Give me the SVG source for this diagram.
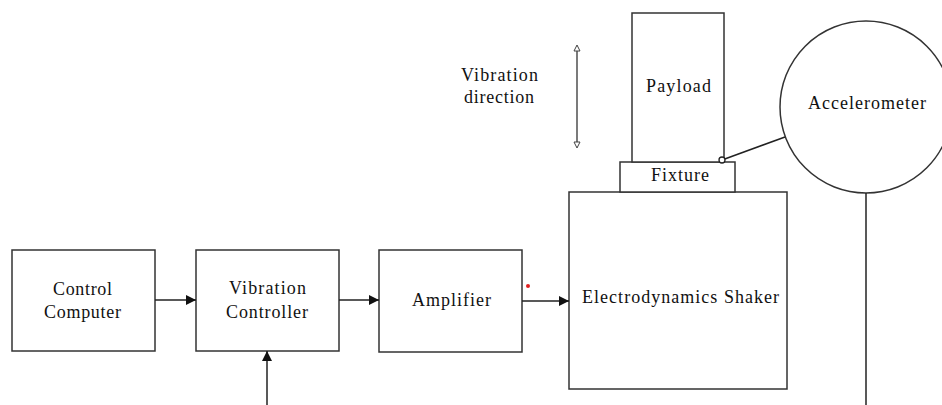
<svg xmlns="http://www.w3.org/2000/svg" width="942" height="405" viewBox="0 0 942 405">
<defs>
<marker id="ah" viewBox="0 0 10 10" refX="10" refY="5" markerWidth="10" markerHeight="10" markerUnits="userSpaceOnUse" orient="auto">
<path d="M0,0 L10,5 L0,10 Z" fill="#111"/>
</marker>
</defs>
<g id="control-computer">
<rect x="12" y="250" width="143" height="101" fill="#fff" stroke="#333" stroke-width="1.5"/>
<text font-family="Liberation Serif" font-size="18" fill="#111" x="53" y="295" textLength="59" lengthAdjust="spacing">Control</text>
<text font-family="Liberation Serif" font-size="18" fill="#111" x="44" y="318" textLength="77" lengthAdjust="spacing">Computer</text>
</g>
<g id="vibration-controller">
<rect x="196" y="250" width="143" height="101" fill="#fff" stroke="#333" stroke-width="1.5"/>
<text font-family="Liberation Serif" font-size="18" fill="#111" x="229" y="294" textLength="77" lengthAdjust="spacing">Vibration</text>
<text font-family="Liberation Serif" font-size="18" fill="#111" x="226" y="318" textLength="82" lengthAdjust="spacing">Controller</text>
</g>
<g id="amplifier">
<rect x="379" y="250" width="143" height="102" fill="#fff" stroke="#333" stroke-width="1.5"/>
<text font-family="Liberation Serif" font-size="18" fill="#111" x="412" y="306" textLength="79" lengthAdjust="spacing">Amplifier</text>
</g>
<g id="shaker">
<rect x="569" y="192" width="218" height="197" fill="#fff" stroke="#333" stroke-width="1.5"/>
<text font-family="Liberation Serif" font-size="18" fill="#111" x="582" y="303" textLength="197" lengthAdjust="spacing">Electrodynamics Shaker</text>
</g>
<g id="fixture">
<rect x="620" y="162" width="115" height="30" fill="#fff" stroke="#333" stroke-width="1.5"/>
<text font-family="Liberation Serif" font-size="18" fill="#111" x="651" y="181" textLength="58" lengthAdjust="spacing">Fixture</text>
</g>
<g id="payload">
<rect x="632" y="13" width="92" height="149" fill="#fff" stroke="#333" stroke-width="1.5"/>
<text font-family="Liberation Serif" font-size="18" fill="#111" x="646" y="92" textLength="65" lengthAdjust="spacing">Payload</text>
</g>
<g id="accelerometer">
<circle cx="866" cy="107" r="86" fill="#fff" stroke="#333" stroke-width="1.5"/>
<text font-family="Liberation Serif" font-size="18" fill="#111" x="808" y="109" textLength="118" lengthAdjust="spacing">Accelerometer</text>
</g>
<g id="vibration-direction">
<text font-family="Liberation Serif" font-size="18" fill="#111" x="461" y="81" textLength="77" lengthAdjust="spacing">Vibration</text>
<text font-family="Liberation Serif" font-size="18" fill="#111" x="464" y="103" textLength="70" lengthAdjust="spacing">direction</text>
</g>
<g id="connectors" fill="none" stroke="#222" stroke-width="1.5">
<line x1="155" y1="300" x2="196" y2="300" marker-end="url(#ah)"/>
<line x1="339" y1="300" x2="379" y2="300" marker-end="url(#ah)"/>
<line x1="522" y1="301" x2="569" y2="301" marker-end="url(#ah)"/>
<line x1="267" y1="405" x2="267" y2="351" marker-end="url(#ah)"/>
<line x1="577" y1="46" x2="577" y2="147" stroke-width="1.2"/>
<path d="M574,51 L577,45 L580,51 Z M574,142 L577,148 L580,142 Z" fill="#fff" stroke="#444" stroke-width="1"/>
<line x1="722" y1="160" x2="785" y2="137"/>
<circle cx="722" cy="160" r="3" fill="#fff" stroke="#222" stroke-width="1.3"/>
<line x1="866" y1="193" x2="866" y2="405"/>
</g>
<circle cx="528" cy="286" r="2" fill="#e02020"/>
</svg>
